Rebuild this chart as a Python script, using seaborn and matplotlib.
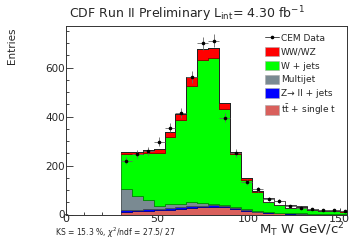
import numpy as np
import pandas as pd
import matplotlib
matplotlib.use("Agg")
import matplotlib.pyplot as plt
import matplotlib.colors as mcolors
from matplotlib.patches import Patch
from matplotlib.lines import Line2D
import seaborn as sns

# ---- data ----
bin_edges = [30 + 6 * i for i in range(22)]
tt_single_t = [12, 13, 15, 17, 20, 23, 27, 30, 32, 30, 24, 16, 10, 7, 5, 4, 3, 2, 2, 2, 1]
z_jets = [8, 7, 7, 6, 6, 6, 6, 6, 5, 5, 4, 3, 2, 2, 1, 1, 1, 1, 1, 0.5, 0.5]
multijet = [85, 56, 37, 13, 16, 15, 20, 11, 6, 5, 1, 2, 1, 1, 2, 1, 1, 1, 1, 0.5, 0.5]
w_jets = [141, 170, 193, 216, 274, 340, 471, 583, 595, 390, 217, 121, 77, 40, 29, 20, 25, 14, 11, 10, 10]
ww_wz = [11, 9, 10, 16, 19, 28, 36, 45, 41, 25, 10, 6, 8, 3, 2, 2, 1, 1, 1, 1, 1]
other = [0, 0, 0, 0, 0, 0, 0, 0, 0, 0, 0, 0, 0, 14, 18, 9, 3, 3, 2, 4, 2]
cem_data = [220, 246, 260, 298, 355, 414, 561, 700, 709, 396, 250, 132, 103, 63, 56, 33, 26, 22, 18, 18, 15]

labels = ["other", "WW/WZ", "W + jets", "Multijet", "Z\u2192 ll + jets", r"t$\bar{\rm t}$ + single t"]
colors = ["#ffffff", "#ff0000", "#00ff00", "#7a8a92", "#0000ff", "#d9605c"]
series = [other, ww_wz, w_jets, multijet, z_jets, tt_single_t]

edges = np.array(bin_edges, dtype=float)
centers = (edges[:-1] + edges[1:]) / 2

rows = []
for lab, vals in zip(labels, series):
    for c, v in zip(centers, vals):
        rows.append({"mt": c, "w": v, "comp": lab})
df = pd.DataFrame(rows)

sns.set_style("ticks")
plt.rcParams["font.family"] = ["DejaVu Sans"]
plt.rcParams["mathtext.fontset"] = "dejavusans"

fig = plt.figure(figsize=(3.49, 2.40), dpi=100)
ax = fig.add_axes([66 / 349, 25.5 / 240, 281 / 349, 188.5 / 240])

sns.histplot(data=df, x="mt", weights="w", hue="comp", hue_order=labels,
             bins=list(bin_edges), multiple="stack", element="step",
             palette=dict(zip(labels, colors)), alpha=1, linewidth=0.6,
             legend=False, ax=ax)

for coll in ax.collections:
    fc = coll.get_facecolor()
    if len(fc):
        rgb = np.array(mcolors.to_rgb(fc[0]))
        if np.allclose(rgb, 1):
            coll.set_edgecolor("#222222")
        else:
            coll.set_edgecolor(tuple(rgb * 0.55))

data = np.array(cem_data, dtype=float)
ax.errorbar(centers, data, yerr=np.sqrt(data), xerr=3, fmt="none",
            ecolor="#666666", elinewidth=0.6, capsize=0, zorder=5)
ax.plot(centers, data, "o", color="black", markersize=1.6, zorder=6)

ax.set_xlim(0, 154)
ax.set_ylim(0, 770)
ax.set_xticks([0, 50, 100, 150])
ax.set_xticks(np.arange(0, 155, 10), minor=True)
ax.set_yticks([0, 200, 400, 600])
ax.set_yticks(np.arange(0, 770, 50), minor=True)
ax.tick_params(axis="both", which="both", direction="in", top=False, right=False)
ax.tick_params(axis="x", which="major", length=5, width=0.6, labelsize=8, pad=-0.5)
ax.tick_params(axis="x", which="minor", length=2.5, width=0.6)
ax.tick_params(axis="y", which="major", length=5, width=0.6, labelsize=7.5, pad=1)
ax.tick_params(axis="y", which="minor", length=2.5, width=0.6)
for s in ax.spines.values():
    s.set_linewidth(0.7)
    s.set_color("#333333")
ax.set_xlabel("")
ax.set_ylabel("")

fig.text(0.537, 0.94, r"CDF Run II Preliminary L$_{\rm int}$= 4.30 fb$^{-1}$",
         ha="center", va="center", fontsize=9)
fig.text(0.035, 1 - 27 / 240, "Entries", rotation=90, ha="center", va="top", fontsize=7.5)
fig.text(55 / 349, 1 - 233 / 240, r"KS = 15.3 %, $\chi^2$/ndf = 27.5/ 27",
         ha="left", va="center", fontsize=5.5)
fig.text(344 / 349, 1 - 229.5 / 240, r"M$_{\rm T}$ W GeV/c$^2$",
         ha="right", va="center", fontsize=9.5)

handles = [Line2D([0], [0], color="#333333", lw=0.6, marker="o", markersize=1.6,
                  markerfacecolor="black", markeredgecolor="black")]
legend_labels = ["CEM Data"]
for lab, col in zip(labels[1:], colors[1:]):
    handles.append(Patch(facecolor=col, edgecolor="#aaaaaa", linewidth=0.4))
    legend_labels.append(lab)
ax.legend(handles, legend_labels, loc="upper left", bbox_to_anchor=(0.7, 0.97),
          frameon=False, fontsize=6.5, handlelength=1.6, handleheight=1.2,
          handletextpad=0.2, labelspacing=0.45, borderpad=0.2, borderaxespad=0)

fig.savefig("out.png", dpi=100)
